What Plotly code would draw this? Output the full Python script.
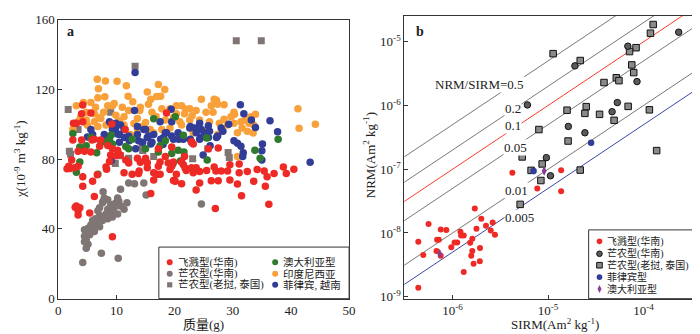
import plotly.graph_objects as go

# ---------------- panel a : chi vs mass ----------------
red_mass = [1.5, 2.0, 2.8, 1.8, 3.4, 2.3, 3.4, 4.5, 5.6, 2.5, 4.0, 5.8, 6.2, 7.1, 7.3, 8.5, 9.3, 10.2, 9.0, 9.9,
            10.6, 8.8, 11.6, 12.1, 13.6, 14.1, 15.0, 15.3, 4.2, 4.0, 5.6, 4.2, 3.1, 9.2, 11.5, 8.2, 8.3, 4.2, 4.2, 5.9,
            6.7, 6.2, 3.1, 3.7, 2.9, 3.4, 3.4, 5.4, 9.3, 11.3, 12.7, 13.8, 13.9, 15.3, 16.4, 16.4, 15.9, 17.0, 17.5, 18.9,
            19.5, 19.2, 20.3, 21.5, 22.0, 22.9, 23.2, 23.7, 24.3, 20.1, 21.2, 24.3, 23.7, 26.3, 27.5, 27.0, 27.1, 28.0, 29.1, 29.5,
            31.1, 31.1, 29.5, 30.8, 31.5, 32.5, 33.6, 35.6, 36.2, 35.9, 37.1, 39.2, 40.5, 38.7, 34.2, 35.4, 26.8, 17.2, 19.8, 21.2,
            18.4, 21.7, 17.2, 19.5, 22.9, 25.8, 27.5, 23.2, 18.6, 19.8, 25.5, 17.5, 21.8, 2.6]
red_chi = [74.5, 74.7, 75.1, 76.0, 76.0, 79.6, 84.6, 84.6, 84.2, 91.1, 91.1, 91.1, 91.5, 87.5, 91.1, 87.9, 86.0, 85.2, 82.4, 82.0,
           82.5, 78.7, 79.6, 77.8, 80.5, 78.2, 80.5, 78.0, 111.1, 106.1, 106.5, 101.5, 100.6, 100.2, 97.0, 75.6, 74.2, 70.0, 64.5, 67.4,
           71.1, 58.6, 53.2, 52.2, 52.5, 50.5, 48.0, 49.2, 35.5, 72.3, 71.4, 71.8, 73.2, 75.1, 72.3, 68.1, 60.4, 71.4, 78.4, 77.8,
           76.0, 74.1, 71.4, 76.9, 73.6, 75.1, 72.3, 75.1, 72.9, 67.4, 65.9, 66.3, 62.3, 67.6, 67.6, 51.7, 73.2, 73.2, 73.2, 76.9,
           77.3, 72.3, 68.1, 65.8, 59.0, 72.9, 67.4, 64.5, 54.1, 70.0, 71.8, 71.8, 74.2, 75.6, 74.1, 73.2, 75.5, 76.0, 78.4, 78.4,
           81.5, 81.5, 86.0, 87.0, 90.0, 86.0, 86.4, 88.8, 106.5, 67.8, 73.5, 71.4, 75.0, 100.6]

grey_mass = [12.1, 13.1, 14.7, 10.7, 15.1, 7.7, 7.9, 8.5, 7.6, 10.2, 9.9, 10.4, 9.0, 7.7, 7.1, 8.5, 9.6, 10.7, 11.3, 8.2,
             9.3, 10.2, 6.8, 7.1, 6.8, 8.5, 7.6, 5.9, 6.5, 6.4, 5.6, 7.1, 5.1, 5.9, 4.5, 6.2, 5.4, 4.5, 4.8, 4.5,
             5.1, 4.8, 7.4, 4.2, 10.3, 24.6, 11.8, 9.3]
grey_chi = [66.3, 66.0, 66.3, 62.8, 59.5, 61.4, 57.7, 56.8, 55.0, 57.7, 55.0, 55.9, 54.0, 55.9, 52.2, 51.3, 52.2, 53.2, 51.3, 48.6,
            49.5, 48.6, 50.4, 47.7, 45.9, 45.9, 44.9, 44.9, 43.1, 45.9, 42.2, 41.3, 40.4, 40.9, 39.5, 38.5, 36.7, 35.8, 34.0, 32.7,
            31.2, 28.9, 26.1, 20.8, 23.2, 54.3, 55.0, 46.8]

sq_mass = [1.7, 1.9, 2.1, 3.4, 9.0, 9.8, 10.7, 13.2, 14.4, 14.5, 16.4, 12.1, 23.1, 25.7, 29.2, 29.4, 30.6, 34.9]
sq_chi = [108.5, 84.6, 82.9, 97.0, 107.0, 77.6, 82.0, 133.3, 87.8, 85.0, 81.5, 80.5, 80.3, 86.0, 83.8, 81.0, 147.9, 147.9]

green_mass = [2.5, 5.6, 3.7, 4.8, 6.6, 7.3, 7.9, 8.8, 9.3, 3.7, 3.1, 6.8, 12.1, 11.6, 15.0, 12.7, 9.1, 16.4, 20.1, 18.4,
              17.5, 20.6, 17.2, 19.5, 21.6, 21.5, 25.5, 25.6, 19.7, 21.0, 33.8, 37.8, 34.7]
green_chi = [94.8, 92.4, 87.0, 87.8, 83.7, 90.6, 90.0, 91.5, 88.8, 78.4, 72.5, 71.4, 86.0, 87.3, 86.0, 91.5, 93.9, 103.2, 104.3, 90.6,
             87.8, 85.1, 84.2, 83.3, 84.2, 93.7, 92.2, 79.6, 77.4, 79.0, 85.1, 91.5, 80.5]

orange_mass = [6.7, 10.1, 8.1, 6.9, 11.7, 17.2, 18.3, 17.6, 15.9, 15.3, 8.0, 6.8, 12.0, 4.3, 5.6, 3.1, 6.4, 8.5, 9.3, 11.0,
               12.1, 14.0, 14.1, 15.5, 4.8, 6.2, 7.3, 9.9, 11.3, 13.6, 16.1, 4.8, 6.2, 3.4, 8.2, 11.3, 14.4, 15.0, 13.6, 15.8,
               5.0, 6.8, 12.4, 16.4, 16.9, 24.6, 26.8, 27.2, 27.4, 28.5, 26.3, 20.3, 21.2, 17.8, 19.2, 22.6, 21.9, 23.7, 25.4, 20.3,
               21.7, 26.6, 30.2, 29.7, 30.3, 31.4, 33.1, 32.2, 30.2, 29.1, 31.6, 30.8, 18.4, 20.9, 22.6, 24.3, 26.0, 27.7, 19.2, 17.8,
               21.2, 27.4, 23.2, 32.8, 33.6, 25.7, 33.9, 41.2, 44.2, 41.4, 30.8, 2.5, 3.8, 7.8, 10.5, 13.0, 16.8, 19.8, 23.0, 28.5,
               32.5, 33.5, 9.6, 7.0, 12.8]
orange_chi = [125.9, 124.8, 124.9, 120.4, 122.2, 122.9, 120.0, 116.2, 114.4, 118.5, 115.8, 115.2, 116.2, 112.5, 112.5, 110.7, 109.8, 110.7, 110.7, 109.8,
              108.0, 107.9, 109.8, 111.6, 107.0, 106.1, 103.4, 105.2, 104.3, 103.4, 107.0, 102.5, 101.5, 101.5, 99.7, 99.7, 98.8, 101.0, 97.0, 97.0,
              99.5, 98.8, 94.2, 95.2, 116.0, 114.4, 114.4, 113.8, 111.6, 111.2, 110.7, 110.7, 110.7, 108.9, 108.9, 108.9, 108.8, 107.9, 107.0, 106.1,
              106.1, 107.0, 107.0, 104.3, 105.8, 101.5, 104.3, 102.5, 100.6, 99.7, 97.9, 95.2, 102.5, 101.5, 102.5, 102.5, 101.5, 100.6, 97.9, 97.0,
              99.7, 94.2, 95.2, 100.6, 99.7, 97.0, 105.8, 108.9, 100.0, 97.8, 81.6, 97.0, 104.0, 107.0, 102.0, 100.5, 104.5, 104.0, 105.0, 103.0,
              96.0, 95.0, 112.0, 104.0, 113.0]

blue_mass = [13.2, 31.3, 31.9, 36.4, 37.7, 35.1, 35.0, 35.0, 43.3, 31.4, 31.8, 30.8, 29.3, 33.2, 28.0, 25.8, 13.1, 19.4, 5.0, 5.6,
             8.0, 8.8, 9.8, 10.2, 11.4, 12.2, 13.6, 15.0, 15.3, 16.4, 17.6, 18.4, 19.5, 20.7, 22.7, 23.5, 24.6, 22.7, 24.5, 25.8,
             27.2, 26.1, 9.1, 14.5, 15.9, 18.0, 10.5, 9.9, 10.7, 5.9, 7.9, 9.3, 10.5, 11.3, 12.1, 13.6, 14.7, 15.5, 13.8, 16.1,
             8.5, 13.3, 17.5, 19.5, 18.6, 20.6, 18.1, 19.8, 21.5, 22.6, 23.7, 24.3, 25.1, 26.0, 27.4, 28.3, 24.3, 22.9, 30.2, 31.7,
             24.9, 33.9]
blue_chi = [129.7, 111.2, 106.1, 102.1, 95.7, 88.8, 84.8, 79.6, 78.3, 87.5, 83.7, 89.2, 100.1, 102.5, 97.9, 99.2, 107.9, 108.7, 92.8, 97.0,
            93.3, 101.5, 97.5, 94.4, 92.4, 90.6, 98.8, 97.0, 92.4, 94.2, 91.5, 95.2, 93.3, 91.5, 98.8, 97.9, 97.0, 91.5, 92.4, 92.4,
            92.4, 87.8, 79.1, 89.7, 88.8, 88.4, 89.7, 100.6, 99.7, 94.2, 94.2, 97.0, 94.2, 97.0, 93.3, 94.2, 97.0, 93.3, 90.6, 89.7,
            90.6, 86.0, 101.5, 101.5, 95.2, 95.2, 92.4, 91.5, 91.5, 97.9, 95.2, 100.6, 95.2, 96.0, 93.3, 96.0, 91.5, 89.7, 90.6, 81.5,
            82.4, 98.2]

# ---------------- panel b : NRM vs SIRM ----------------
b_red_sirm = [4.23e-6, 1.37e-5, 7.71e-6, 1.37e-5, 1.71e-6, 2.0e-6, 2.63e-6, 5.61e-7, 7.52e-7, 8.61e-7, 2.24e-6, 1.78e-6,
              2.51e-6, 2.78e-6, 1.21e-6, 1.23e-6, 1.31e-6, 1.61e-6, 1.53e-6, 1.12e-6, 6.89e-7, 7.18e-7, 4.38e-7, 9.7e-7,
              1.94e-6, 6.79e-7, 7.52e-7, 4.94e-7, 1.61e-6, 1.57e-6, 1.93e-6, 1.66e-6, 1.31e-6, 4.38e-7, 1.05e-6]
b_red_nrm = [8.8e-8, 9.6e-8, 5.0e-8, 4.5e-8, 2.42e-8, 1.68e-8, 1.46e-8, 1.39e-8, 1.13e-8, 1.11e-8, 1.30e-8, 1.17e-8,
             1.09e-8, 9.4e-9, 1.05e-8, 9.1e-9, 9.1e-9, 8.1e-9, 7.0e-9, 7.1e-9, 7.8e-9, 7.8e-9, 7.3e-9, 6.0e-9,
             5.8e-9, 5.2e-9, 4.4e-9, 4.5e-9, 5.2e-9, 4.4e-9, 3.6e-9, 3.3e-9, 2.45e-9, 1.38e-9, 7.1e-9]

b_circ_sirm = [2.33e-4, 6.84e-5, 1.91e-5, 8.53e-5, 6.08e-6, 5.31e-5, 4.68e-5, 1.63e-5, 2.43e-5, 9.6e-6, 1.06e-5]
b_circ_nrm = [1.41e-5, 8.5e-6, 4.18e-6, 2.37e-6, 1.02e-6, 1.11e-6, 7.98e-7, 4.69e-7, 3.73e-7, 1.52e-7, 7.9e-8]

b_sq_sirm = [1.13e-5, 2.17e-5, 1.26e-4, 1.18e-4, 8.34e-5, 7.13e-5, 7.52e-5, 7.88e-5, 5.18e-5, 5.52e-5, 3.85e-5,
             1.58e-5, 2.51e-5, 2.43e-5, 3.46e-5, 6.89e-5, 4.91e-5, 1.15e-4, 8.02e-6, 1.62e-5, 1.37e-4, 5.36e-6,
             8.67e-6, 6.64e-6, 2.17e-5, 8.41e-6, 5.10e-6]
b_sq_nrm = [6.5e-6, 5.07e-6, 1.86e-5, 1.36e-5, 8.05e-6, 7.01e-6, 4.33e-6, 3.28e-6, 2.72e-6, 2.45e-6, 2.29e-6,
            8.43e-7, 9.58e-7, 7.52e-7, 7.26e-7, 9.68e-7, 5.85e-7, 8.55e-7, 4.19e-7, 2.77e-7, 1.96e-7, 1.56e-7,
            1.21e-7, 9.6e-8, 9.7e-8, 6.65e-8, 2.81e-8]

b_blue_sirm = [7.05e-6, 2.82e-5]
b_blue_nrm = [9.4e-8, 2.61e-7]
b_purple_sirm = [9.1e-6, 7.34e-7]
b_purple_nrm = [9.4e-8, 4.72e-9]

ratios = [0.5, 0.2, 0.1, 0.05, 0.01, 0.005]
ratio_labels = ["NRM/SIRM=0.5", "0.2", "0.1", "0.05", "0.01", "0.005"]
ratio_colors = ["#7d7775", "#7d7775", "#ff3b2f", "#7d7775", "#7d7775", "#3c48a6"]
line_sirm = [1e-7, 1e-3]

legend_a = [["飞溅型(华南)", "芒农型(华南)", "芒农型(老挝, 泰国)"], ["澳大利亚型", "印度尼西亚", "菲律宾, 越南"]]
legend_b = ["飞溅型(华南)", "芒农型(华南)", "芒农型(老挝, 泰国)", "菲律宾型", "澳大利亚型"]

RED, GREY, GREEN, ORANGE, BLUE, PURPLE = "#ed2a25", "#7f7674", "#2f7a2c", "#f8a039", "#313d96", "#8e3b93"
FONT = "Liberation Serif, Noto Sans CJK SC, serif"
W, H = 700, 334


def px(x, y):
    return x / W, 1 - y / H


fig = go.Figure()


def dots(x, y, color, symbol="circle", size=7.5, xa="x", ya="y", line=None):
    fig.add_trace(go.Scatter(x=x, y=y, mode="markers", xaxis=xa, yaxis=ya, showlegend=False,
                             marker=dict(color=color, size=size, symbol=symbol,
                                         line=line or dict(width=0))))


dots(sq_mass, sq_chi, GREY, "square", 7)
dots(orange_mass, orange_chi, ORANGE)
dots(blue_mass, blue_chi, BLUE)
dots(green_mass, green_chi, GREEN)
dots(grey_mass, grey_chi, GREY)
dots(red_mass, red_chi, RED)

for r, c in zip(ratios, ratio_colors):
    fig.add_trace(go.Scatter(x=line_sirm, y=[r * s for s in line_sirm], mode="lines", xaxis="x2", yaxis="y2",
                             showlegend=False, line=dict(color=c, width=1)))

edge = dict(width=1, color="#111")
dots(b_red_sirm, b_red_nrm, RED, size=6, xa="x2", ya="y2")
dots(b_sq_sirm, b_sq_nrm, "#8a8a8a", "square", 6.5, "x2", "y2", edge)
dots(b_circ_sirm, b_circ_nrm, "#5b5b5b", "circle", 6.5, "x2", "y2", edge)
dots(b_blue_sirm, b_blue_nrm, BLUE, size=6.5, xa="x2", ya="y2")
dots(b_purple_sirm, b_purple_nrm, PURPLE, "diamond-tall", 7, "x2", "y2")

axis_common = dict(showline=True, mirror=True, linecolor="#333", linewidth=1, ticks="inside", ticklen=4,
                   tickcolor="#333", showgrid=False, zeroline=False, ticklabeloverflow="allow",
                   tickfont=dict(family=FONT, size=13, color="#222"))
fig.update_layout(
    width=W, height=H, margin=dict(l=0, r=0, t=0, b=0), plot_bgcolor="white", paper_bgcolor="white",
    font=dict(family=FONT, size=13, color="#222"),
    xaxis=dict(domain=[48 / W, 343 / W], range=[0, 50], tickvals=[0, 10, 20, 30, 40, 50], anchor="y", **axis_common),
    yaxis=dict(domain=[37 / H, 329 / H], range=[0, 160], tickvals=[0, 40, 80, 120, 160], anchor="x", **axis_common),
    xaxis2=dict(domain=[399 / W, 697 / W], type="log", range=[-6.505, -3.43], anchor="y2",
                tickvals=[1e-6, 1e-5, 1e-4], ticktext=["10<sup>-6</sup>", "10<sup>-5</sup>", "10<sup>-4</sup>"],
                **axis_common),
    yaxis2=dict(domain=[37 / H, 333 / H], type="log", range=[-9.03, -4.596], anchor="x2",
                tickvals=[1e-9, 1e-8, 1e-7, 1e-6, 1e-5],
                ticktext=["10<sup>-9</sup>", "10<sup>-8</sup>", "10<sup>-7</sup>", "10<sup>-6</sup>", "10<sup>-5</sup>"],
                **axis_common),
)

ann = []


def text(x, y, s, size=13, angle=0, anchor="center", bold=False, bg=None):
    xp, yp = px(x, y)
    ann.append(dict(x=xp, y=yp, xref="paper", yref="paper", text=f"<b>{s}</b>" if bold else s,
                    showarrow=False, xanchor=anchor, yanchor="middle", textangle=angle,
                    font=dict(family=FONT, size=size, color="#222"),
                    bgcolor=bg, borderpad=0))


text(195, 324, "质量(g)", 13)
text(552, 324, "SIRM(Am<sup>2</sup> kg<sup>-1</sup>)", 13)
text(9, 151, "χ(10<sup>-9</sup> m<sup>3</sup> kg<sup>-1</sup>)", 13, -90)
text(364, 147, "NRM(Am<sup>2</sup> kg<sup>-1</sup>)", 13, -90)
text(60, 17, "a", 14, bold=True)
text(415, 17, "b", 14, bold=True)

label_pos = [(475, 73), (509, 98), (509, 116), (512, 139), (513, 184), (516, 212)]
for (lx, ly), s in zip(label_pos, ratio_labels):
    text(lx, ly, s, 13, bg="white")

shapes = []


def box(x0, y0, x1, y1):
    a, b = px(x0, y1)
    c, d = px(x1, y0)
    shapes.append(dict(type="rect", xref="paper", yref="paper", x0=a, y0=b, x1=c, y1=d,
                       line=dict(color="#333", width=1), fillcolor="white", layer="above"))


def symbol(x, y, color, kind="circle", r=3, outline=False):
    xp, yp = px(x, y)
    s = dict(xref="paper", yref="paper", xsizemode="pixel", ysizemode="pixel", xanchor=xp, yanchor=yp,
             fillcolor=color, line=dict(color="#111", width=1 if outline else 0), layer="above")
    if kind == "diamond":
        s.update(type="path", path="M 0,4 L 2,0 L 0,-4 L -2,0 Z")
    else:
        s.update(type="rect" if kind == "square" else "circle", x0=-r, x1=r, y0=-r, y1=r)
    shapes.append(s)


box(150, 243, 343, 297)
rows_a = [259, 271, 282.5]
for i, (lab, col, kind) in enumerate(zip(legend_a[0], [RED, GREY, GREY], ["circle", "circle", "square"])):
    symbol(161, rows_a[i], col, kind, 3 if kind == "circle" else 2.6)
    text(168, rows_a[i], lab, 10.5, anchor="left")
for i, (lab, col) in enumerate(zip(legend_a[1], [GREEN, ORANGE, BLUE])):
    symbol(268, rows_a[i], col, "circle", 3)
    text(275, rows_a[i], lab, 10.5, anchor="left")

box(586, 225, 697, 297)
rows_b = [237, 250, 262, 274.5, 287]
kinds_b = [(RED, "circle", False), ("#5b5b5b", "circle", True), ("#8a8a8a", "square", True),
           (BLUE, "circle", False), (PURPLE, "diamond", False)]
for i, (lab, (col, kind, ol)) in enumerate(zip(legend_b, kinds_b)):
    symbol(597, rows_b[i], col, kind, 2.8, ol)
    text(604, rows_b[i], lab, 10, anchor="left")

fig.update_layout(annotations=ann, shapes=shapes)
fig.write_html("out.html")
